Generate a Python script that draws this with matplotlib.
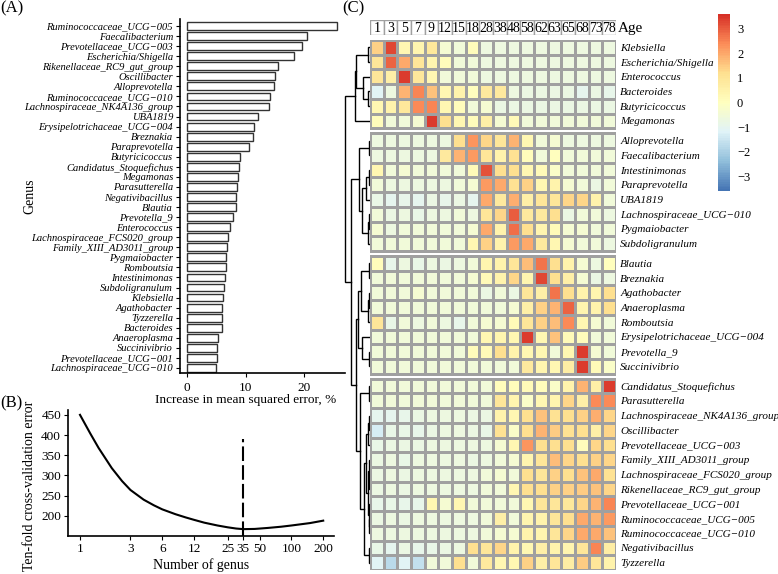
import numpy as np
import matplotlib.pyplot as plt
from matplotlib.colors import LinearSegmentedColormap, Normalize
from matplotlib.cm import ScalarMappable

plt.rcParams['font.family'] = ['Liberation Serif', 'DejaVu Serif']

# ---------------- data ----------------
# (A) variable importance
imp_genus = ["Ruminococcaceae_UCG\u2212005", "Faecalibacterium", "Prevotellaceae_UCG\u2212003",
             "Escherichia/Shigella", "Rikenellaceae_RC9_gut_group", "Oscillibacter",
             "Alloprevotella", "Ruminococcaceae_UCG\u2212010", "Lachnospiraceae_NK4A136_group",
             "UBA1819", "Erysipelotrichaceae_UCG\u2212004", "Breznakia", "Paraprevotella",
             "Butyricicoccus", "Candidatus_Stoquefichus", "Megamonas", "Parasutterella",
             "Negativibacillus", "Blautia", "Prevotella_9", "Enterococcus",
             "Lachnospiraceae_FCS020_group", "Family_XIII_AD3011_group", "Pygmaiobacter",
             "Romboutsia", "Intestinimonas", "Subdoligranulum", "Klebsiella", "Agathobacter",
             "Tyzzerella", "Bacteroides", "Anaeroplasma", "Succinivibrio",
             "Prevotellaceae_UCG\u2212001", "Lachnospiraceae_UCG\u2212010"]
imp_mse = [25.7, 20.5, 19.7, 18.3, 15.6, 15.0, 14.8, 14.1, 14.0, 12.2, 11.5, 11.2, 10.6,
           9.1, 8.9, 8.7, 8.6, 8.4, 8.4, 7.8, 7.3, 7.0, 6.8, 6.7, 6.6, 6.5, 6.3, 6.2, 6.0,
           6.0, 5.9, 5.3, 5.2, 5.2, 5.0]

# (B) cross-validation curve
n_genus = [1, 1.25, 1.5, 2, 2.5, 3, 4, 5, 6, 8, 10, 12, 15, 20, 25, 30, 35, 45, 60, 80,
           100, 150, 200]
cv_error = [450, 404, 368, 318, 286, 264, 240, 226, 216, 204, 196, 190, 183, 176, 171.5,
            168.5, 167, 167.5, 170, 173, 176, 182, 188]
best_n = 35

# (C) heatmap
ages = [1, 3, 5, 7, 9, 12, 15, 18, 28, 38, 48, 58, 62, 63, 65, 68, 73, 78]
group1 = ["Klebsiella", "Escherichia/Shigella", "Enterococcus", "Bacteroides",
          "Butyricicoccus", "Megamonas"]
group2 = ["Alloprevotella", "Faecalibacterium", "Intestinimonas", "Paraprevotella",
          "UBA1819", "Lachnospiraceae_UCG\u2212010", "Pygmaiobacter", "Subdoligranulum"]
group3 = ["Blautia", "Breznakia", "Agathobacter", "Anaeroplasma", "Romboutsia",
          "Erysipelotrichaceae_UCG\u2212004", "Prevotella_9", "Succinivibrio"]
group4 = ["Candidatus_Stoquefichus", "Parasutterella", "Lachnospiraceae_NK4A136_group",
          "Oscillibacter", "Prevotellaceae_UCG\u2212003", "Family_XIII_AD3011_group",
          "Lachnospiraceae_FCS020_group", "Rikenellaceae_RC9_gut_group",
          "Prevotellaceae_UCG\u2212001", "Ruminococcaceae_UCG\u2212005",
          "Ruminococcaceae_UCG\u2212010", "Negativibacillus", "Tyzzerella"]

z_group1 = [
    [1.4, 3.3, 0.3, 0.4, 0.9, -0.4, -0.55, 0.1, -0.65, -0.65, -0.65, -0.65, -0.65, -0.65, -0.65, -0.65, -0.65, -0.65],
    [1.0, 2.9, 2.0, 1.0, 0.4, 0.1, -0.55, -0.55, -0.65, -0.65, -0.65, -0.65, -0.65, -0.65, -0.65, -0.65, -0.65, -0.65],
    [1.0, 0.6, 3.4, 0.9, 0.3, -0.55, -0.55, -0.55, -0.65, -0.65, -0.65, -0.65, -0.65, -0.65, -0.65, -0.65, -0.65, -0.65],
    [-1.1, -0.65, 1.8, 2.5, 1.6, 0.3, 0.5, 0.0, 0.8, 0.8, -0.65, -0.75, -0.75, -0.75, -0.75, -1.0, -0.75, -0.9],
    [0.3, 0.5, 0.9, 2.4, 2.5, 0.3, 0.1, -0.55, -0.4, -0.75, -0.75, -0.75, -0.75, -0.75, -0.75, -0.75, -0.75, -0.75],
    [0.1, -0.55, -0.55, -0.4, 3.4, 1.2, 0.3, 0.1, 0.6, -0.4, 0.2, -0.55, -0.55, -0.55, -0.55, -0.55, -0.55, -0.55],
]
z_group2 = [
    [-0.65, -0.65, -0.65, -0.65, -0.65, -0.65, 1.2, 2.3, 1.3, 1.0, 1.8, 0.3, -0.55, -0.4, -0.65, -0.65, -0.65, -0.65],
    [-0.65, -0.65, -0.65, -0.65, -0.65, 0.8, 1.8, 2.2, 1.0, 0.5, 1.1, 0.1, -0.55, 0.0, -0.55, -0.55, -0.55, -0.55],
    [0.3, -0.55, -0.4, -0.55, -0.55, -0.55, -0.55, 0.2, 3.1, 1.2, 1.2, 0.3, 0.2, -0.2, -0.55, -0.55, -0.55, -0.55],
    [-0.55, -0.65, -0.65, -0.65, -0.65, -0.65, -0.55, -0.4, 2.2, 2.0, 1.1, 1.4, 0.3, 0.5, -0.4, -0.55, -0.75, -0.55],
    [-0.8, -1.0, -0.9, -1.0, -0.75, -0.9, -0.75, -1.0, 2.0, 0.8, 1.9, 0.6, 1.0, 1.0, 1.3, 1.3, 0.5, -0.55],
    [-0.55, -0.75, -0.65, -0.8, -0.65, -0.65, -0.55, -0.65, 1.0, 1.3, 3.0, 0.8, 0.8, 1.2, -0.75, -0.55, -0.55, -0.65],
    [-0.4, -0.65, -0.55, -0.55, -0.55, -0.55, -0.55, -0.4, 2.0, 0.5, 2.8, 1.2, 0.4, 0.2, -0.4, -0.4, -0.55, -0.55],
    [-0.55, -0.55, -0.55, -0.55, -0.55, -0.55, -0.55, 0.3, 1.4, 0.5, 2.2, 2.0, 0.8, 0.3, -0.4, -0.55, -0.55, -0.65],
]
z_group3 = [
    [0.1, -0.9, -0.65, -0.8, -0.65, -0.75, -0.65, -0.55, 0.4, 0.5, 1.0, 1.7, 2.7, 1.2, 0.5, -0.4, -0.65, 0.0],
    [-0.55, -0.55, -0.55, -0.55, -0.55, -0.55, -0.55, -0.4, 0.2, 0.5, 1.3, 0.4, 3.3, 1.2, 0.6, -0.4, -0.75, -0.65],
    [-0.55, -0.55, -0.55, -0.4, -0.55, -0.55, -0.55, -0.55, -0.75, -0.55, -0.75, 1.0, 0.6, 2.7, 1.2, 0.5, 0.4, 1.2],
    [-0.55, -0.55, -0.55, -0.55, -0.55, -0.55, -0.55, -0.55, -0.55, -0.55, -0.4, 0.6, 1.4, 1.8, 2.9, 0.4, 0.5, 1.2],
    [1.0, -0.8, -0.55, -0.65, -0.55, -0.65, -0.9, -0.55, -0.4, -0.4, 0.2, 1.0, 1.4, 1.7, 2.4, 0.3, -0.4, -0.55],
    [-0.55, -0.55, -0.55, -0.55, -0.55, -0.55, -0.55, -0.55, 0.3, 0.4, 0.3, 3.4, 0.3, 1.6, 0.2, 0.1, -0.55, -0.55],
    [-0.55, -0.55, -0.55, -0.55, -0.55, -0.55, -0.55, 0.1, 0.2, 1.2, 0.5, 0.3, 0.3, -0.55, 0.3, 3.4, -0.4, -0.55],
    [-0.55, -0.55, -0.55, -0.55, -0.55, -0.55, -0.55, -0.55, -0.55, -0.55, -0.55, 0.8, 0.4, 0.3, 0.7, 3.4, 0.2, -0.2],
]
z_group4 = [
    [-0.55, -0.55, -0.55, -0.55, -0.55, -0.55, -0.55, -0.55, -0.55, 0.1, 0.1, 0.2, 0.1, -0.2, 0.5, 1.8, 0.6, 3.4],
    [-0.55, -0.55, -0.55, -0.55, -0.55, -0.55, -0.55, -0.55, -0.55, 1.0, 0.4, -0.2, 0.3, 0.4, 1.3, 0.6, 2.4, 2.4],
    [-1.0, -1.0, -0.9, -0.75, -0.65, -0.65, -0.65, -0.75, -0.75, 0.5, 0.3, 1.2, 1.6, 1.1, 1.2, 1.4, 1.9, 1.3],
    [-1.3, -0.8, -0.8, -0.9, -0.75, -0.65, -0.65, -0.75, -0.8, 1.1, -0.2, 1.2, 1.8, 1.5, 1.1, 1.2, 0.6, 1.3],
    [-0.8, -0.75, -0.75, -0.75, -0.65, -0.65, -0.65, -0.65, -0.65, -0.4, 0.3, 2.3, 1.2, 1.2, 1.2, 0.1, 1.3, 1.2],
    [-0.75, -0.65, -0.8, -0.65, -0.65, -0.65, -0.65, -0.75, -0.65, -0.55, -0.4, 0.4, 1.0, 1.7, 1.3, 1.2, 1.4, 1.3],
    [-0.75, -0.65, -0.75, -0.65, -0.65, -0.65, -0.65, -0.65, -0.55, -0.4, -0.55, 1.2, 1.0, 1.4, 1.2, 1.6, 2.0, 1.1],
    [-0.75, -0.65, -0.75, -0.65, -0.65, -0.65, -0.65, -0.65, -0.55, -0.55, 0.3, 1.2, 1.2, 1.4, 1.4, 1.5, 1.6, 1.3],
    [-0.9, -0.8, -0.9, -0.9, 0.3, -0.4, 0.3, -0.55, -0.55, -0.55, -0.55, 0.3, 1.0, 1.0, 0.9, 1.3, 1.8, 2.5],
    [-0.75, -0.65, -0.75, -0.65, -0.65, -0.65, -0.65, -0.65, -0.55, 0.6, -0.55, 0.4, 0.5, 1.0, 1.2, 2.0, 1.8, 2.2],
    [-0.65, -0.65, -0.65, -0.65, -0.65, -0.65, -0.65, -0.65, -0.55, -0.4, -0.4, 0.5, 0.4, 1.0, 1.3, 2.0, 2.0, 1.6],
    [-0.8, -1.0, -0.75, -0.9, -0.8, -0.75, -0.65, 1.2, 1.0, 1.3, 0.5, 0.3, 0.6, 0.5, 0.4, 1.0, 2.5, 0.7],
    [-1.1, -1.8, -1.1, -1.6, -0.55, -0.55, 1.2, -0.55, 0.8, 0.3, 0.3, 1.4, 0.6, 1.0, 0.7, 1.5, 1.0, 0.5],
]

# row dendrogram: (left, right, merge height)
g1_tree = (((0, 1, 2), (2, (3, 4, 2), 7), 13.7), 5, 15)
g2_tree = ((6, 7, 1), (((8, 9, 1), 10, 4), ((11, 12, 1), 13, 2), 8), 11)
g3_tree = (((14, 15, 1), ((16, 17, 1), 18, 2), 9), (19, (20, 21, 1), 8), 12)
g4_tree = ((22, 23, 1), ((((24, 25, 1), 26, 2), ((27, (28, 29, 1), 1.5), (30, (31, 32, 1), 1.5), 2.5), 4),
                         (33, 34, 1), 6.5), 10)
row_tree = (g1_tree, (g2_tree, (g3_tree, g4_tree, 14.3), 18.6), 25)

# ---------------- figure ----------------
W, H = 778, 574
fig = plt.figure(figsize=(W / 100, H / 100), dpi=100)


def px_axes(x0, y0, x1, y1):
    return fig.add_axes([x0 / W, 1 - y1 / H, (x1 - x0) / W, (y1 - y0) / H])


# ---- (A) bar chart ----
axA = px_axes(180, 19, 345, 373)
ypos = np.arange(len(imp_genus))
axA.barh(ypos, imp_mse, height=0.78, color="white", edgecolor="#333333", linewidth=1.0)
axA.set_xlim(-1.2, 27.0)
axA.set_ylim(34.5, -0.7)
axA.set_yticks(ypos)
axA.set_yticklabels(imp_genus, fontstyle="italic", fontsize=7.6)
axA.set_xticks([0, 10, 20])
axA.tick_params(axis="x", labelsize=9.5, length=3, width=0.8)
axA.tick_params(axis="y", length=3, width=0.8, pad=2)
axA.spines[["top", "right"]].set_visible(False)
axA.spines[["left", "bottom"]].set_linewidth(1.2)
axA.set_xlabel("Increase in mean squared error, %", fontsize=9.5, labelpad=2)
axA.xaxis.set_label_coords(0.4, -0.058)
axA.set_ylabel("Genus", fontsize=10, labelpad=0)
axA.yaxis.set_label_coords(-0.87, 0.5)

# ---- (B) cross-validation curve ----
axB = px_axes(68, 410, 334, 536)
axB.plot(n_genus, cv_error, color="black", linewidth=1.5)
axB.plot([best_n, best_n], [150, 390], color="black", linewidth=1.5, linestyle=(0, (7, 2)))
axB.set_xscale("log")
axB.set_xlim(0.77, 253)
axB.set_ylim(150, 462)
xt = [1, 3, 6, 12, 25, 35, 50, 100, 200]
axB.set_xticks(xt)
axB.set_xticklabels([str(v) for v in xt])
axB.xaxis.set_minor_locator(plt.NullLocator())
axB.set_yticks([200, 250, 300, 350, 400, 450])
axB.tick_params(labelsize=9.5, length=3, width=0.8, pad=2)
axB.spines[["top", "right"]].set_visible(False)
axB.spines[["left", "bottom"]].set_linewidth(1.2)
axB.set_xlabel("Number of genus", fontsize=10, labelpad=2)
axB.set_ylabel("Ten-fold cross-validation error", fontsize=10, labelpad=2)
axB.yaxis.set_label_coords(-0.12, 0.4)

# ---- (C) heatmap ----
cmap = LinearSegmentedColormap.from_list(
    "rdylbu_r", ["#4575B4", "#91BFDB", "#E0F3F8", "#FFFFBF", "#FEE090", "#FC8D59", "#D73027"], N=100)
norm = Normalize(vmin=-3.6, vmax=3.6)
grid = "#A0A0A0"

groups = [(group1, z_group1), (group2, z_group2), (group3, z_group3), (group4, z_group4)]
gap = 0.34
total = sum(len(g) for g, _ in groups) + gap * (len(groups) - 1)

axC = px_axes(370, 40, 616, 570)
axC.set_xlim(0, len(ages))
axC.set_ylim(total, 0)
row_centers, row_labels = [], []
y0 = 0.0
for names, z in groups:
    yedges = y0 + np.arange(len(names) + 1)
    axC.pcolormesh(np.arange(len(ages) + 1), yedges, np.array(z), cmap=cmap, norm=norm,
                   edgecolors=grid, linewidth=1.0)
    axC.add_patch(plt.Rectangle((0, y0), len(ages), len(names), fill=False,
                                edgecolor=grid, linewidth=1.3))
    row_centers += list(y0 + 0.5 + np.arange(len(names)))
    row_labels += names
    y0 += len(names) + gap
axC.set_xticks([])
axC.yaxis.tick_right()
axC.set_yticks(row_centers)
axC.set_yticklabels(row_labels, fontstyle="italic", fontsize=8.0)
axC.tick_params(axis="y", length=0, pad=3)
for s in axC.spines.values():
    s.set_visible(False)

# age header
axH = px_axes(370, 20, 616, 35)
axH.set_xlim(0, len(ages))
axH.set_ylim(0, 1)
for i, a in enumerate(ages):
    axH.add_patch(plt.Rectangle((i, 0), 1, 1, facecolor="white", edgecolor=grid, linewidth=1.0))
    axH.text(i + 0.5, 0.42, str(a), ha="center", va="center", fontsize=10)
axH.text(len(ages) + 0.12, 0.42, "Age", ha="left", va="center", fontsize=11)
axH.axis("off")

# dendrogram
axD = px_axes(343, 40, 370, 570)
axD.set_xlim(27, 0)
axD.set_ylim(total, 0)
axD.axis("off")


def draw_tree(node):
    if isinstance(node, int):
        return row_centers[node], 0.0
    ya, ha = draw_tree(node[0])
    yb, hb = draw_tree(node[1])
    h = node[2]
    axD.plot([ha, h, h, hb], [ya, ya, yb, yb], color="black", linewidth=1.0,
             solid_joinstyle="miter")
    return (ya + yb) / 2, h


draw_tree(row_tree)

# colorbar
axCb = px_axes(718, 14, 730, 191)
cb = fig.colorbar(ScalarMappable(norm=norm, cmap=cmap), cax=axCb, ticks=[-3, -2, -1, 0, 1, 2, 3])
cb.outline.set_visible(False)
cb.ax.tick_params(length=0, labelsize=9, pad=5)
cb.ax.set_yticklabels(["\u22123", "\u22122", "\u22121", "0", "1", "2", "3"])

# panel letters
fig.text(0 / W, 1 - 8 / H, "(A)", fontsize=12, va="center", ha="left")
fig.text(0 / W, 1 - 403 / H, "(B)", fontsize=12, va="center", ha="left")
fig.text(342 / W, 1 - 8 / H, "(C)", fontsize=12, va="center", ha="left")

fig.savefig("out.png", dpi=100)
